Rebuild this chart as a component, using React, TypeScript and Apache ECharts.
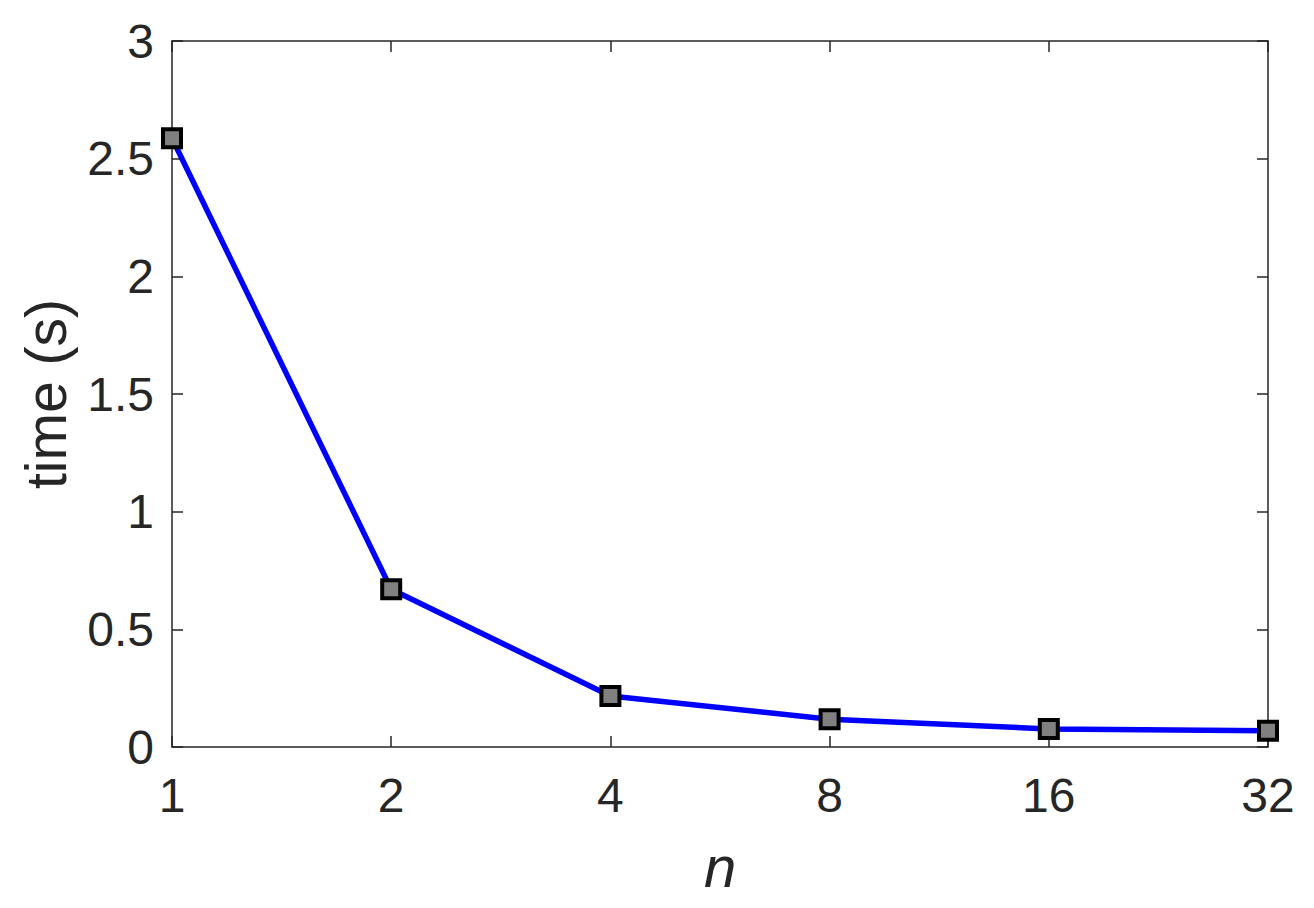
import React, { useEffect, useRef } from "react";
import * as echarts from "echarts";

const categories = ["1", "2", "4", "8", "16", "32"];
const timeValues = [2.587, 0.67, 0.217, 0.118, 0.077, 0.069];
const yTicks = { min: 0, max: 3, interval: 0.5 };

const frameColor = "#262626";
const font = "'Liberation Sans', Arial, Helvetica, sans-serif";

export default function App() {
  const ref = useRef<HTMLDivElement>(null);
  useEffect(() => {
    if (!ref.current) return;
    const chart = echarts.init(ref.current, null, { renderer: "svg" });
    const axisLine = { show: true, onZero: false, lineStyle: { color: frameColor, width: 1.5 } };
    const axisTick = { show: true, inside: true, length: 11, lineStyle: { color: frameColor, width: 1.5 } };
    chart.setOption({
      animation: false,
      backgroundColor: "#ffffff",
      grid: { left: 172, right: 46, top: 41, bottom: 161, containLabel: false },
      xAxis: [
        {
          type: "category",
          data: categories,
          boundaryGap: false,
          position: "bottom",
          axisLine,
          axisTick: { ...axisTick, alignWithLabel: true },
          splitLine: { show: false },
          axisLabel: { color: frameColor, fontSize: 48, fontFamily: font, margin: 24 },
          name: "n",
          nameLocation: "middle",
          nameGap: 90,
          nameTextStyle: { color: frameColor, fontSize: 58, fontStyle: "italic", fontFamily: font },
        },
        {
          type: "category",
          data: categories,
          boundaryGap: false,
          position: "top",
          axisLine,
          axisTick,
          axisLabel: { show: false },
          splitLine: { show: false },
        },
      ],
      yAxis: [
        {
          type: "value",
          min: yTicks.min,
          max: yTicks.max,
          interval: yTicks.interval,
          position: "left",
          axisLine,
          axisTick,
          splitLine: { show: false },
          axisLabel: { color: frameColor, fontSize: 48, fontFamily: font, margin: 18 },
          name: "time (s)",
          nameLocation: "middle",
          nameGap: 98,
          nameTextStyle: { color: frameColor, fontSize: 57, fontFamily: font },
        },
        {
          type: "value",
          min: yTicks.min,
          max: yTicks.max,
          interval: yTicks.interval,
          position: "right",
          axisLine,
          axisTick,
          splitLine: { show: false },
          axisLabel: { show: false },
        },
      ],
      series: [
        {
          type: "line",
          data: timeValues,
          xAxisIndex: 0,
          yAxisIndex: 0,
          lineStyle: { color: "#0000ff", width: 5.5 },
          symbol: "rect",
          symbolSize: 18,
          itemStyle: { color: "#808080", borderColor: "#000000", borderWidth: 4 },
          z: 3,
        },
      ],
    });
    return () => chart.dispose();
  }, []);
  return (
    <div
      ref={ref}
      style={{ position: "absolute", left: 0, top: 0, width: 1314, height: 908 }}
    />
  );
}
